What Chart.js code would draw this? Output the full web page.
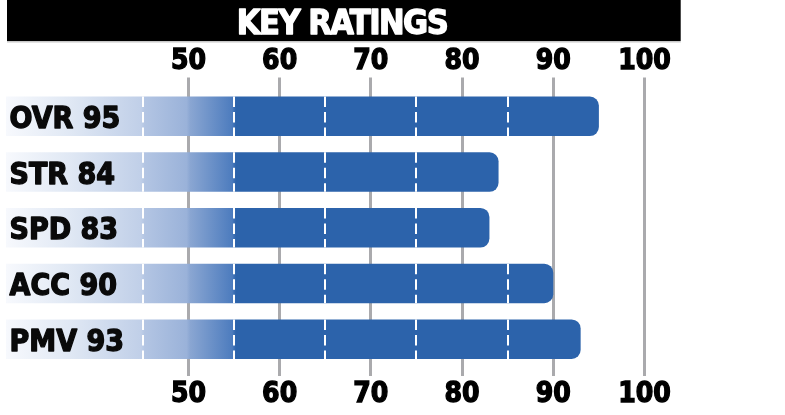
<!DOCTYPE html>
<html>
<head>
<meta charset="utf-8">
<script src="https://cdn.jsdelivr.net/npm/chart.js@4.4.1/dist/chart.umd.min.js"></script>
<style>
  html, body { margin: 0; padding: 0; background: #ffffff; }
  #wrap { width: 785px; height: 415px; }
</style>
</head>
<body>
<div id="wrap"><canvas id="c" width="785" height="415"></canvas></div>
<script>
// ---- data ----
const title = "KEY RATINGS";
const categories = ["OVR", "STR", "SPD", "ACC", "PMV"];
const ratings = [95, 84, 83, 90, 93];
const tickValues = [50, 60, 70, 80, 90, 100];
const dashValues = [45, 55, 65, 75, 85];
const axisMin = 30;
const axisMax = 100;

// ---- style ----
const FONT = "'DejaVu Sans Condensed', 'DejaVu Sans', sans-serif";
const BLUE = "#2c63ab";
const GRID = "#aaaaad";

function barGradient(ctx) {
  const chart = ctx.chart;
  const xs = chart.scales.x;
  if (!chart.chartArea || !xs) return BLUE;
  const x0 = xs.getPixelForValue(axisMin);
  const x1 = xs.getPixelForValue(55.2);
  const g = chart.ctx.createLinearGradient(x0, 0, x1, 0);
  const p = v => (xs.getPixelForValue(v) - x0) / (x1 - x0);
  g.addColorStop(0, "#f7f9fd");
  g.addColorStop(p(37), "#e0e8f4");
  g.addColorStop(p(44.8), "#c0cfe8");
  g.addColorStop(p(45.2), "#b3c5e3");
  g.addColorStop(p(49.8), "#9ab2d9");
  g.addColorStop(p(50.2), "#8aa6d2");
  g.addColorStop(p(54.8), "#4d7cbe");
  g.addColorStop(1, BLUE);
  return g;
}

const overlay = {
  id: "overlay",
  beforeDraw(chart) {
    const c = chart.ctx;
    c.save();
    c.fillStyle = "#000000";
    c.fillRect(7, 0, 673.7, 41);
    c.fillStyle = "#c8c8c8";
    c.fillRect(7, 41, 673.7, 1.5);
    c.fillStyle = "#ffffff";
    c.strokeStyle = "#ffffff";
    c.lineWidth = 1.3;
    c.lineJoin = "round";
    c.font = "bold 34px " + FONT;
    if ("letterSpacing" in c) c.letterSpacing = "-1.5px";
    c.textAlign = "center";
    c.textBaseline = "alphabetic";
    c.fillText(title, 342, 33.5);
    c.strokeText(title, 342, 33.5);
    c.restore();
  },
  afterDatasetsDraw(chart) {
    const c = chart.ctx;
    const xs = chart.scales.x;
    const meta = chart.getDatasetMeta(0);
    c.save();
    c.strokeStyle = "#ffffff";
    c.lineWidth = 2;
    c.setLineDash([10.5, 5]);
    meta.data.forEach((bar, i) => {
      const { y, height } = bar.getProps(["y", "height"], true);
      const top = y - height / 2, bottom = y + height / 2;
      dashValues.forEach(v => {
        if (v < ratings[i] - 0.8) {
          const px = Math.round(xs.getPixelForValue(v));
          c.beginPath();
          c.moveTo(px, top);
          c.lineTo(px, bottom);
          c.stroke();
        }
      });
    });
    c.restore();
  },
  afterDraw(chart) {
    const c = chart.ctx;
    const meta = chart.getDatasetMeta(0);
    c.save();
    c.fillStyle = "#0a0a0a";
    c.strokeStyle = "#0a0a0a";
    c.lineWidth = 1.3;
    c.lineJoin = "round";
    c.font = "bold 30px " + FONT;
    c.textAlign = "left";
    c.textBaseline = "alphabetic";
    meta.data.forEach((bar, i) => {
      const t = categories[i] + " " + ratings[i];
      c.fillText(t, 9.5, bar.y + 11.5);
      c.strokeText(t, 9.5, bar.y + 11.5);
    });
    c.restore();
  }
};

const setTicks = scale => { scale.ticks = tickValues.map(v => ({ value: v })); };
const tickFont = { family: FONT, size: 28, weight: "bold" };

new Chart(document.getElementById("c"), {
  type: "bar",
  data: {
    labels: categories,
    datasets: [{
      data: ratings,
      backgroundColor: barGradient,
      borderWidth: 0,
      borderRadius: 9,
      borderSkipped: "start",
      categoryPercentage: 1,
      barPercentage: 0.71
    }]
  },
  options: {
    indexAxis: "y",
    responsive: false,
    animation: false,
    devicePixelRatio: 1,
    layout: { padding: { left: 6, right: 140.5, top: 0, bottom: 0 } },
    plugins: { legend: { display: false }, title: { display: false }, tooltip: { enabled: false } },
    scales: {
      y: { display: false },
      x: {
        position: "top",
        min: axisMin, max: axisMax,
        z: 1,
        afterBuildTicks: setTicks,
        afterFit: s => { s.height = 88.5; },
        border: { display: false },
        grid: { color: GRID, lineWidth: 3, drawTicks: true, tickLength: 11, tickColor: GRID, tickWidth: 3, drawOnChartArea: true },
        ticks: { color: "#000000", font: tickFont, padding: -1, maxRotation: 0, autoSkip: false, textStrokeColor: "#000000", textStrokeWidth: 1.3 }
      },
      x2: {
        position: "bottom",
        axis: "x",
        min: axisMin, max: axisMax,
        z: 1,
        afterBuildTicks: setTicks,
        afterFit: s => { s.height = 48; },
        border: { display: false },
        grid: { color: GRID, lineWidth: 3, drawTicks: true, tickLength: 9, tickColor: GRID, tickWidth: 3, drawOnChartArea: false },
        ticks: { color: "#000000", font: tickFont, padding: 2, maxRotation: 0, autoSkip: false, textStrokeColor: "#000000", textStrokeWidth: 1.3 }
      }
    }
  },
  plugins: [overlay]
});
</script>
</body>
</html>
